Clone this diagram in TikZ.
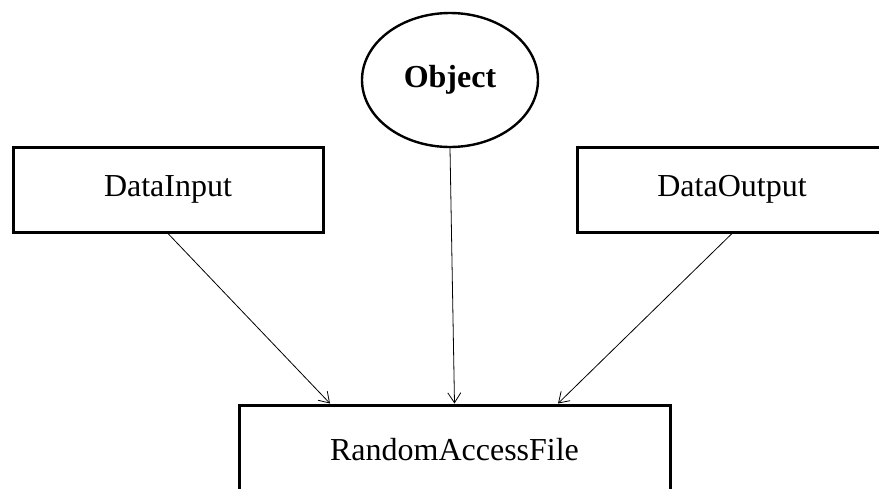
\documentclass[tikz,border=0pt]{standalone}
\usepackage{fontspec}
\setmainfont{Liberation Serif}
\usetikzlibrary{arrows.meta,shapes.geometric}
\begin{document}
\begin{tikzpicture}[x=1pt,y=-1pt,
  classbox/.style={draw=black,line width=3pt,fill=white,rectangle,inner sep=0pt,
    font=\fontsize{32}{38}\selectfont},
  rootnode/.style={draw=black,line width=2.4pt,ellipse,inner sep=0pt,
    minimum width=176pt,minimum height=134pt,font=\fontsize{32}{38}\selectfont\bfseries},
  inherit/.style={draw=black,line width=0.8pt,-{Straight Barb[length=10pt,width=13pt,line width=0.8pt]}}]
\useasboundingbox (0,0) rectangle (879,488);
\clip (0,0) rectangle (879,488);
\fill[white] (0,0) rectangle (879,488);
\node[rootnode] (obj) at (450,80) {Object};
\node[classbox,minimum width=310pt,minimum height=85pt] (din) at (168,189.5) {DataInput};
\node[classbox,minimum width=310pt,minimum height=85pt] (dout) at (732,189.5) {DataOutput};
\node[classbox,minimum width=431pt,minimum height=90pt] (raf) at (454.5,450) {RandomAccessFile};
\coordinate (tl) at ([xshift=-124.5pt]raf.north);
\coordinate (tr) at ([xshift=103.5pt]raf.north);
\draw[inherit] (din.south) -- (tl);
\draw[inherit] (obj.south) -- (raf.north);
\draw[inherit] (dout.south) -- (tr);
\end{tikzpicture}
\end{document}
